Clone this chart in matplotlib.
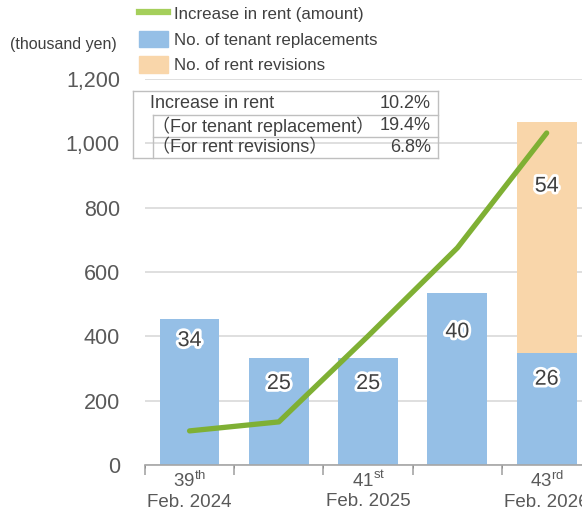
import numpy as np
import matplotlib.pyplot as plt
import matplotlib.patheffects as pe
from matplotlib.lines import Line2D
from matplotlib.patches import Patch

plt.rcParams['font.family'] = ['Liberation Sans', 'Noto Sans CJK JP', 'DejaVu Sans']
plt.rcParams['mathtext.fontset'] = 'custom'
plt.rcParams['mathtext.rm'] = 'Liberation Sans'

# Data
periods = ['39', '40', '41', '42', '43']
period_sup = ['th', 'th', 'st', 'nd', 'rd']
period_dates = ['Feb. 2024', 'Aug. 2024', 'Feb. 2025', 'Aug. 2025', 'Feb. 2026']
rent_increase = [106, 134, 401, 675, 1032]        # thousand yen
tenant_replacements = [34, 25, 25, 40, 26]        # count
rent_revisions = [0, 0, 0, 0, 54]                 # count
table_rows = ['Increase in rent', '（For tenant replacement）', '（For rent revisions）']
table_vals = ['10.2%', '19.4%', '6.8%']

blue = '#95bfe6'
orange = '#f9d6aa'
green = '#7fb034'
txt = '#404040'

fig = plt.figure(figsize=(5.82, 5.12), dpi=100)
# axes extends past the right edge, like the cropped original
ax2 = fig.add_axes([0.249, 0.0918, 0.767, 0.754])
ax = ax2.twinx()
ax.set_zorder(2)
ax.patch.set_visible(False)
ax2.set_zorder(1)

x = np.arange(len(periods))
glow = [pe.withStroke(linewidth=4, foreground='white')]

# bars (counts) on hidden secondary scale
ax2.bar(x, tenant_replacements, width=0.67, color=blue, zorder=2)
ax2.bar(x, rent_revisions, width=0.67, bottom=tenant_replacements, color=orange, zorder=2)
ax2.set_ylim(0, 90)
ax2.set_xlim(-0.5, 4.5)
ax2.set_yticks(np.arange(0, 91, 15))
ax2.yaxis.grid(True, color='#d9d9d9', linewidth=1.2)
ax2.set_axisbelow(True)
ax2.tick_params(left=False, labelleft=False, bottom=False, labelbottom=False)
for s in ax2.spines.values():
    s.set_visible(False)

drop = [5, 6, 6, 9, 6]
for i in range(len(x)):
    ax2.text(x[i], tenant_replacements[i] - drop[i], str(tenant_replacements[i]),
             ha='center', va='center', fontsize=15.5, color=txt, path_effects=glow, zorder=3)
    if rent_revisions[i]:
        top = tenant_replacements[i] + rent_revisions[i]
        ax2.text(x[i], top - 15, str(rent_revisions[i]),
                 ha='center', va='center', fontsize=15.5, color=txt, path_effects=glow, zorder=3)

# line (thousand yen) on primary scale, shown on the left
ax.plot(x, rent_increase, color=green, linewidth=3.8, solid_capstyle='round', zorder=4)
ax.set_ylim(0, 1200)
ax.set_xlim(-0.5, 4.5)
ax.yaxis.tick_left()
ax.set_yticks(np.arange(0, 1201, 200))
ax.set_yticklabels([f'{v:,}' for v in range(0, 1201, 200)])
ax.tick_params(axis='y', length=0, pad=18, labelsize=15.5, labelcolor='#595959')
for s in ['top', 'right', 'left']:
    ax.spines[s].set_visible(False)
ax.spines['bottom'].set_color('#a6a6a6')
ax.spines['bottom'].set_linewidth(1.2)

ax.xaxis.set_visible(True)
ax.set_xticks(x)
ax.set_xticklabels([f'{p}$^{{\\mathrm{{{s}}}}}$\n{d}' if i % 2 == 0 else ''
                    for i, (p, s, d) in enumerate(zip(periods, period_sup, period_dates))],
                   fontsize=13.5, color='#595959', linespacing=1.2)
ax.set_xticks(np.arange(-0.5, 5, 1), minor=True)
ax.tick_params(axis='x', which='major', length=0, pad=4)
ax.tick_params(axis='x', which='minor', length=7, color='#a6a6a6', width=1.2)

fig.text(0.017, 0.914, '(thousand yen)', fontsize=11.5, color=txt, va='center')

# legend
handles = [Line2D([], [], color='#a5cf5b', linewidth=4.5),
           Patch(color=blue), Patch(color=orange)]
labels = ['Increase in rent (amount)', 'No. of tenant replacements', 'No. of rent revisions']
fig.legend(handles, labels, loc='upper left', bbox_to_anchor=(0.212, 1.02),
           frameon=False, fontsize=12.2, labelcolor=txt, handlelength=1.75,
           handleheight=1.15, handletextpad=0.35, labelspacing=0.5)

# table box
W, H = 582, 512
def px(xp, yp):
    return xp / W, 1 - yp / H

box = dict(color='#bfbfbf', linewidth=1.0)
for (x0, y0), (x1, y1) in [((133, 91), (438, 91)), ((133, 158), (438, 158)),
                           ((153, 115), (438, 115)), ((153, 137), (438, 137)),
                           ((133, 91), (133, 158)), ((153, 115), (153, 158)),
                           ((438, 91), (438, 158))]:
    a, b = px(x0, y0)
    c, d = px(x1, y1)
    fig.add_artist(Line2D([a, c], [b, d], **box))

row_y = [103, 126, 148]
row_x = [150, 152, 152]
for name, val, yy, xx in zip(table_rows, table_vals, row_y, row_x):
    fig.text(*px(xx, yy), name, fontsize=13, color=txt, va='center', ha='left')
    fig.text(*px(431, yy), val, fontsize=13, color=txt, va='center', ha='right')

fig.savefig('out.png', dpi=100)
